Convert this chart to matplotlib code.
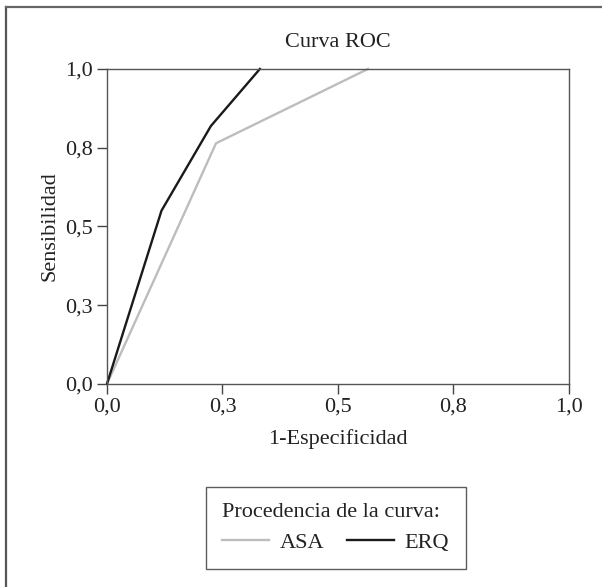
import matplotlib.pyplot as plt
from matplotlib.lines import Line2D
from matplotlib.ticker import FixedLocator, FixedFormatter

# ROC curve points (1-especificidad, sensibilidad)
asa_x = [0.0, 0.236, 0.565]
asa_y = [0.0, 0.764, 1.0]
erq_x = [0.0, 0.118, 0.225, 0.331]
erq_y = [0.0, 0.550, 0.819, 1.0]

tick_pos = [0.0, 0.25, 0.5, 0.75, 1.0]
tick_labels = ["0,0", "0,3", "0,5", "0,8", "1,0"]

plt.rcParams["font.family"] = ["Liberation Serif", "DejaVu Serif"]
plt.rcParams["font.size"] = 16

fig = plt.figure(figsize=(6.02, 5.87), dpi=100)
ax = fig.add_axes([0.1777, 0.346, 0.945 - 0.1777, 0.8825 - 0.346])

ax.plot(asa_x, asa_y, color="#bdbdbd", linewidth=1.7, label="ASA", clip_on=False)
ax.plot(erq_x, erq_y, color="#1a1a1a", linewidth=1.7, label="ERQ", clip_on=False)

ax.set_xlim(0, 1)
ax.set_ylim(0, 1)
ax.xaxis.set_major_locator(FixedLocator(tick_pos))
ax.xaxis.set_major_formatter(FixedFormatter(tick_labels))
ax.yaxis.set_major_locator(FixedLocator(tick_pos))
ax.yaxis.set_major_formatter(FixedFormatter(tick_labels))
ax.tick_params(direction="out", length=7, width=1, color="#444444",
               labelcolor="#222222", labelsize=16, pad=3)

for s in ax.spines.values():
    s.set_color("#555555")
    s.set_linewidth(1.0)

ax.set_title("Curva ROC", fontsize=16, color="#222222", pad=16)
ax.set_xlabel("1-Especificidad", fontsize=16, color="#222222", labelpad=9)
ax.set_ylabel("Sensibilidad", fontsize=16, color="#222222", labelpad=4)

leg = ax.legend(title="Procedencia de la curva:", ncol=2, loc="center",
                bbox_to_anchor=(0.558, 0.1005), bbox_transform=fig.transFigure,
                fancybox=False, frameon=True, edgecolor="#333333",
                fontsize=16, title_fontsize=16, handlelength=2.1,
                columnspacing=1.0, handletextpad=0.5, alignment="left",
                borderpad=0.75, labelspacing=0.45)
leg.get_frame().set_linewidth(1.0)
for t in leg.get_texts():
    t.set_color("#222222")
leg.get_title().set_color("#222222")

# frame lines along the top and left of the figure
fig.add_artist(Line2D([6 / 602, 6 / 602], [0, 1 - 7 / 587], transform=fig.transFigure,
                      color="#555555", linewidth=1.6))
fig.add_artist(Line2D([6 / 602, 1], [1 - 7 / 587, 1 - 7 / 587], transform=fig.transFigure,
                      color="#666666", linewidth=1.6))

fig.savefig("out.png", dpi=100)
